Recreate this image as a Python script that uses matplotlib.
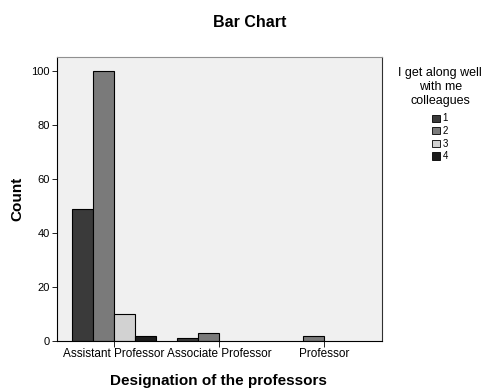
import numpy as np
import matplotlib
matplotlib.use("Agg")
import matplotlib.pyplot as plt
from matplotlib.patches import Patch

plt.rcParams["font.family"] = ["Liberation Sans", "DejaVu Sans"]

categories = ["Assistant Professor", "Associate Professor", "Professor"]
levels = ["1", "2", "3", "4"]
counts_1 = [49, 1, 0]
counts_2 = [100, 3, 2]
counts_3 = [10, 0, 0]
counts_4 = [2, 0, 0]
colors = ["#3a3a3a", "#7a7a7a", "#d2d2d2", "#1c1c1c"]

fig = plt.figure(figsize=(4.87, 3.88), dpi=100)
ax = fig.add_axes([0.117, 0.121, 0.667, 0.732])
ax.set_facecolor("#f0f0f0")

x = np.arange(len(categories))
width = 0.2
series = [counts_1, counts_2, counts_3, counts_4]
for i, (vals, col) in enumerate(zip(series, colors)):
    offs = (i - 1.5) * width
    for xi, v in zip(x, vals):
        if v > 0:
            ax.bar(xi + offs, v, width, color=col, edgecolor="black", linewidth=0.8)

ax.set_xlim(-0.54, 2.55)
ax.set_ylim(0, 105)
ax.set_yticks([0, 20, 40, 60, 80, 100])
ax.set_xticks(x)
ax.set_xticklabels(categories, fontsize=8.5)
ax.tick_params(axis="y", labelsize=8, length=3.5, width=0.6, pad=1.5)
ax.tick_params(axis="x", length=4, width=0.6, pad=1)
for s in ax.spines.values():
    s.set_linewidth(0.8)
ax.spines["top"].set_color("#909090")
ax.spines["right"].set_color("#303030")

ax.set_ylabel("Count", fontsize=11, fontweight="bold", va="center")
ax.yaxis.set_label_coords(-0.123, 0.5)
ax.set_xlabel("Designation of the professors", fontsize=11, fontweight="bold", va="center")
ax.xaxis.set_label_coords(0.498, -0.141)
fig.text(0.513, 0.941, "Bar Chart", ha="center", va="center", fontsize=11.5, fontweight="bold")

handles = [Patch(facecolor=c, edgecolor="black", linewidth=0.6) for c in colors]
leg = fig.legend(handles, levels, title="I get along well\nwith me\ncolleagues",
                 loc="upper center", bbox_to_anchor=(0.904, 0.84), frameon=False,
                 fontsize=7, title_fontsize=9, handlelength=0.75, handleheight=0.75,
                 handletextpad=0.3, labelspacing=0.27, borderpad=0)
leg.get_title().set_multialignment("center")
leg._legend_box.sep = 5

fig.savefig("out.png", dpi=100)
